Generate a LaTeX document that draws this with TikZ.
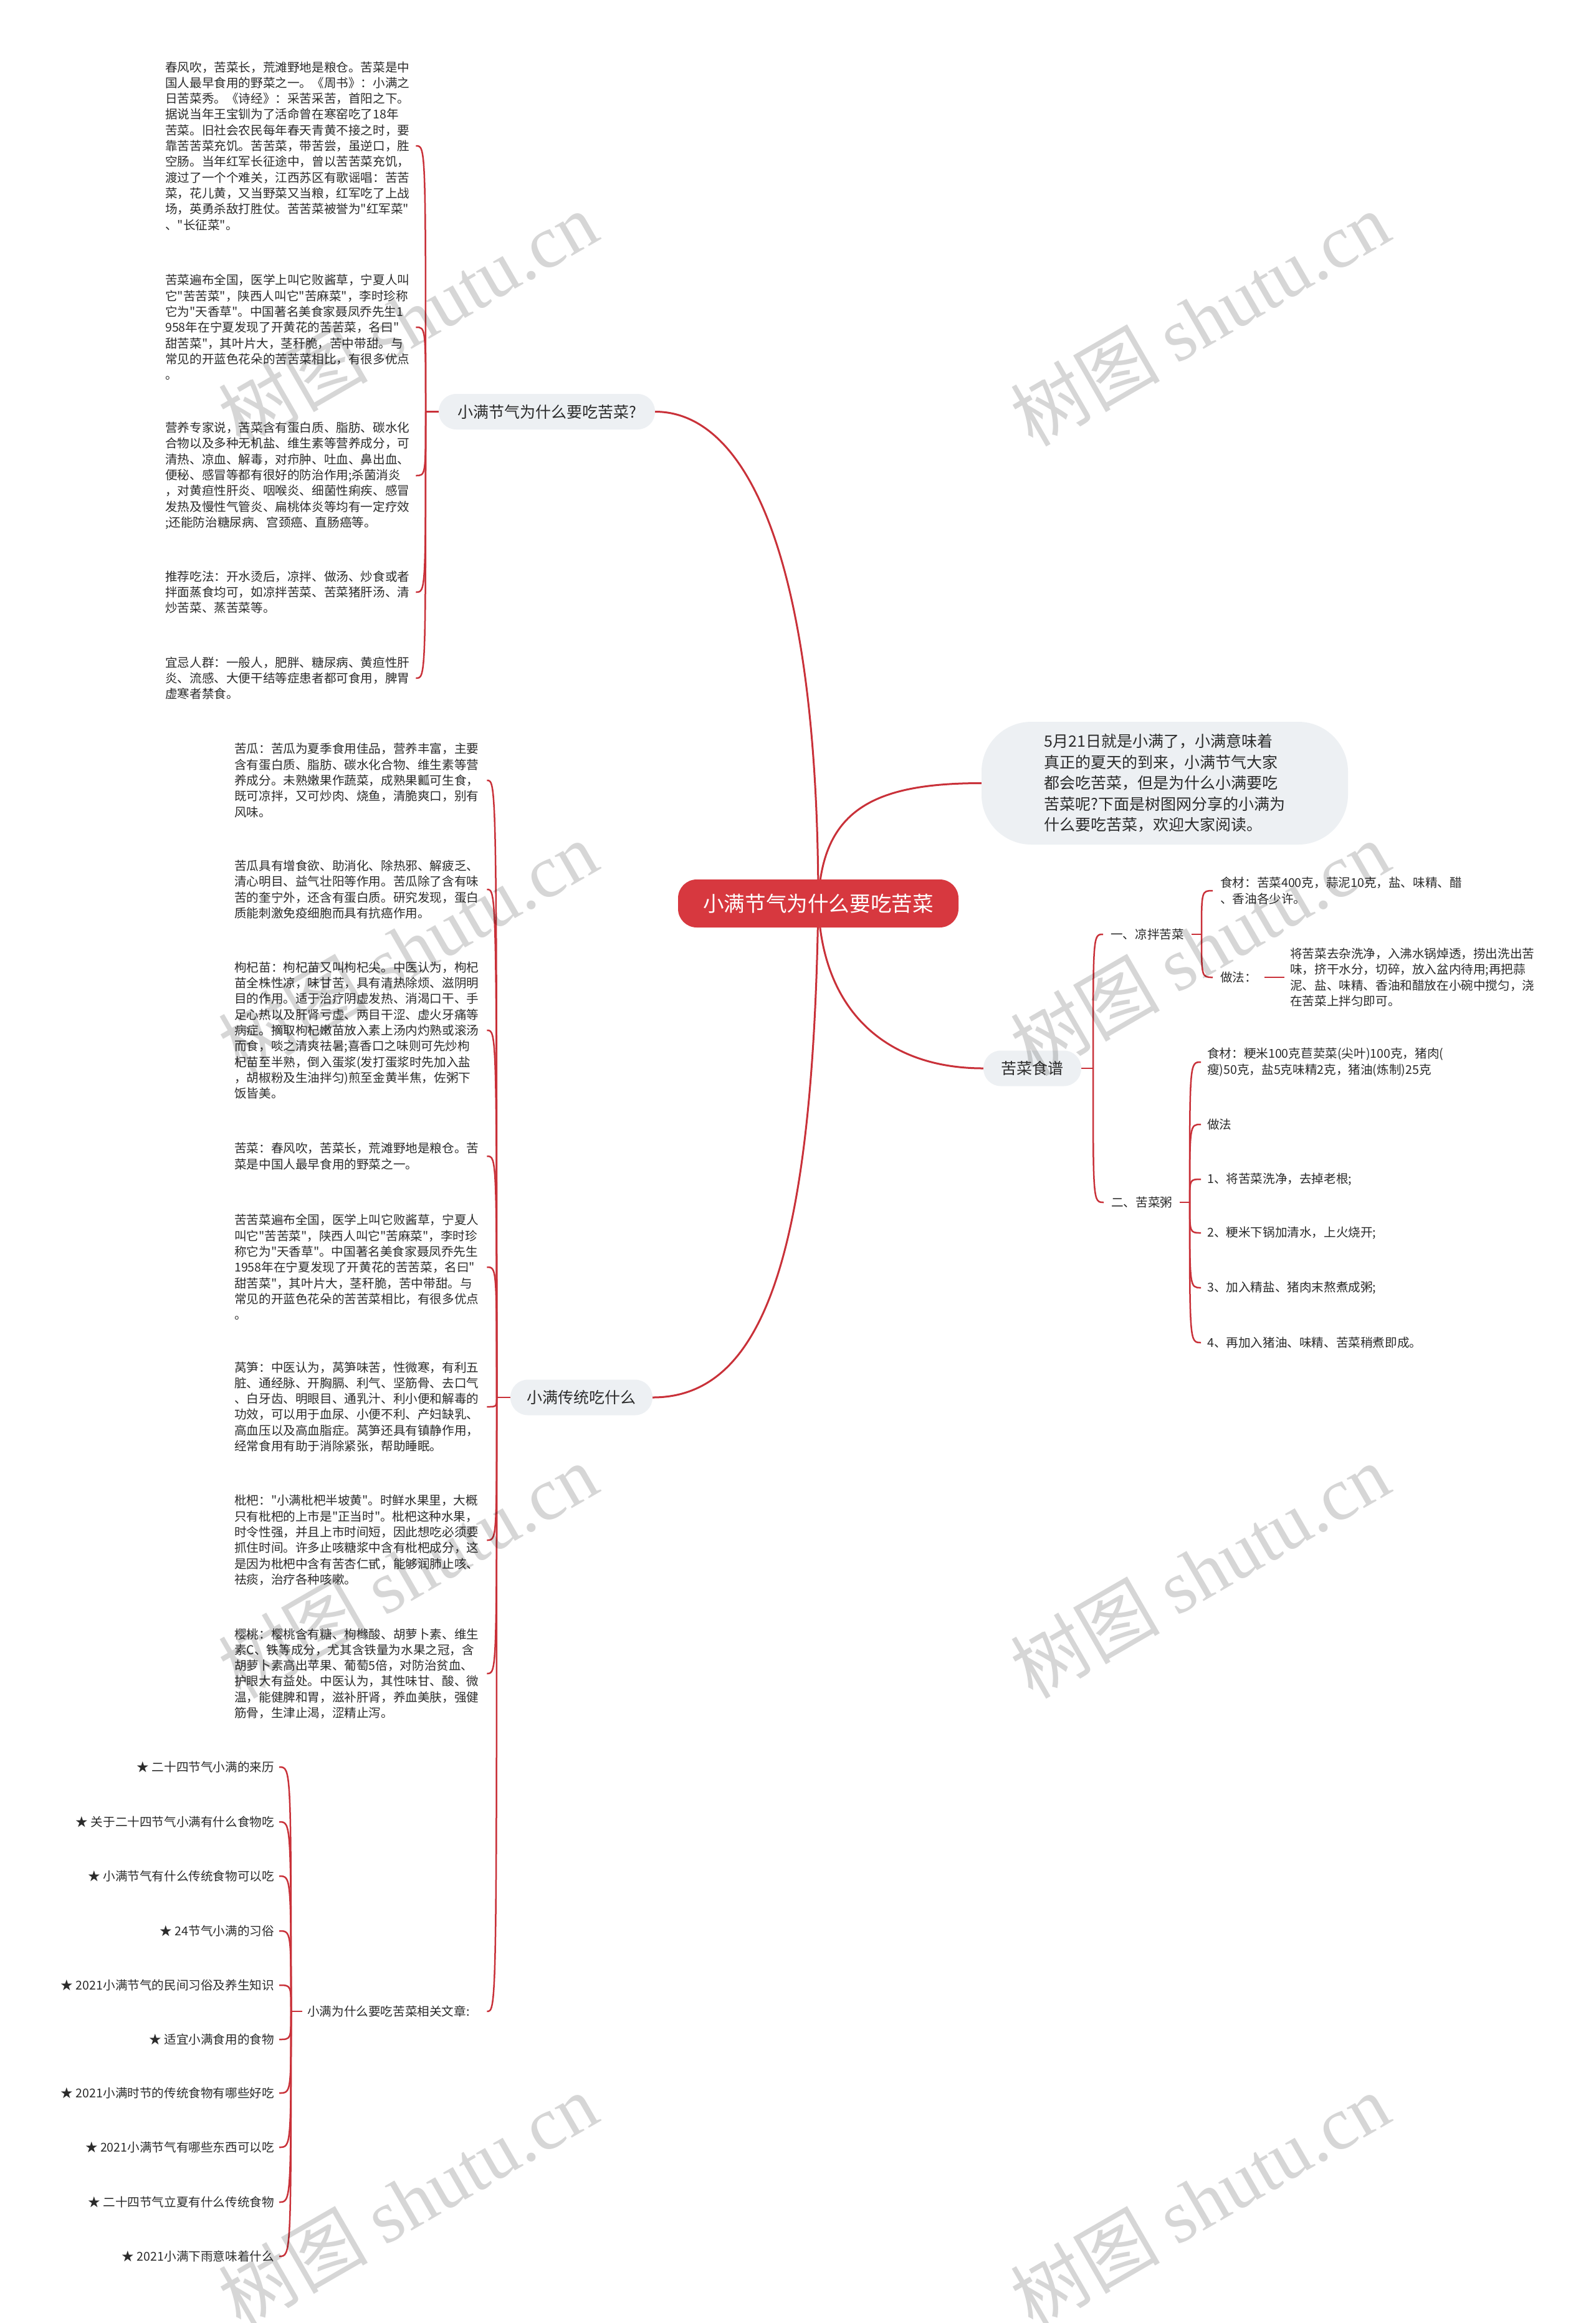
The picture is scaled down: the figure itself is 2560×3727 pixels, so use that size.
\documentclass[tikz,border=0pt]{standalone}
\usepackage{fontspec}
\setmainfont{Noto Sans CJK SC}[Ligatures=TeXOff]
\newfontfamily\wmlatin{Liberation Serif}[Ligatures=TeXOff]
\usetikzlibrary{backgrounds}
\definecolor{linered}{HTML}{C93139}
\definecolor{rootred}{HTML}{D7383F}
\definecolor{pale}{HTML}{EDF0F3}
\definecolor{ink}{HTML}{2B2B2B}
\tikzset{
  mainconn/.style={draw=linered, line width=3pt},
  conn/.style={draw=linered, line width=2.5pt},
  txt/.style={inner ysep=2pt, text=ink, align=left, font=\fontsize{19.6}{25.3}\selectfont},
  leafA/.style={txt, text width=392pt, inner xsep=10pt, anchor=west},
  leafB/.style={txt, text width=392pt, inner xsep=13pt, anchor=west},
  branchnode/.style={fill=pale, rounded corners=28pt, minimum height=57pt, text=ink, font=\fontsize{25}{30}\selectfont, inner sep=0pt},
  rootnode/.style={fill=rootred, rounded corners=30pt, minimum width=450pt, minimum height=77pt, text=white, font=\fontsize{33.6}{40}\selectfont, inner sep=0pt},
  intronode/.style={fill=pale, rounded corners=80pt, minimum width=588pt, minimum height=197pt, text=ink, align=left, font=\fontsize{25}{33.5}\selectfont, inner sep=0pt},
  wmark/.style={rotate=30, text=black, opacity=0.16, inner sep=0pt, font=\fontsize{120}{130}\selectfont},
}
\begin{document}
\begin{tikzpicture}[x=1pt, y=-1pt]
\useasboundingbox (0,0) rectangle (2560,3727);

% ---------- root and first-level nodes ----------
\node[rootnode] (root) at (1313,1449.5) {小满节气为什么要吃苦菜};
\node[branchnode, minimum width=347pt] (b1) at (877.5,660.5) {小满节气为什么要吃苦菜?};
\node[branchnode, minimum width=228pt] (b2) at (933,2242) {小满传统吃什么};
\node[branchnode, minimum width=157pt] (b3) at (1656.5,1714) {苦菜食谱};
\node[intronode] (intro) at (1869,1256.5) {5月21日就是小满了，小满意味着\\真正的夏天的到来，小满节气大家\\都会吃苦菜，但是为什么小满要吃\\苦菜呢?下面是树图网分享的小满为\\什么要吃苦菜，欢迎大家阅读。};

% ---------- branch 1 leaves ----------
\node[leafA] (a1) at (255,234) {春风吹，苦菜长，荒滩野地是粮仓。苦菜是中\\国人最早食用的野菜之一。《周书》：小满之\\日苦菜秀。《诗经》：采苦采苦，首阳之下。\\据说当年王宝钏为了活命曾在寒窑吃了18年\\苦菜。旧社会农民每年春天青黄不接之时，要\\靠苦苦菜充饥。苦苦菜，带苦尝，虽逆口，胜\\空肠。当年红军长征途中，曾以苦苦菜充饥，\\渡过了一个个难关，江西苏区有歌谣唱：苦苦\\菜，花儿黄，又当野菜又当粮，红军吃了上战\\场，英勇杀敌打胜仗。苦苦菜被誉为"红军菜"\\、"长征菜"。};
\node[leafA] (a2) at (255,525) {苦菜遍布全国，医学上叫它败酱草，宁夏人叫\\它"苦苦菜"，陕西人叫它"苦麻菜"，李时珍称\\它为"天香草"。中国著名美食家聂凤乔先生1\\958年在宁夏发现了开黄花的苦苦菜，名曰"\\甜苦菜"，其叶片大，茎秆脆，苦中带甜。与\\常见的开蓝色花朵的苦苦菜相比，有很多优点\\。};
\node[leafA] (a3) at (255,763) {营养专家说，苦菜含有蛋白质、脂肪、碳水化\\合物以及多种无机盐、维生素等营养成分，可\\清热、凉血、解毒，对疖肿、吐血、鼻出血、\\便秘、感冒等都有很好的防治作用;杀菌消炎\\，对黄疸性肝炎、咽喉炎、细菌性痢疾、感冒\\发热及慢性气管炎、扁桃体炎等均有一定疗效\\;还能防治糖尿病、宫颈癌、直肠癌等。};
\node[leafA] (a4) at (255,950) {推荐吃法：开水烫后，凉拌、做汤、炒食或者\\拌面蒸食均可，如凉拌苦菜、苦菜猪肝汤、清\\炒苦菜、蒸苦菜等。};
\node[leafA] (a5) at (255,1088) {宜忌人群：一般人，肥胖、糖尿病、黄疸性肝\\炎、流感、大便干结等症患者都可食用，脾胃\\虚寒者禁食。};

% ---------- branch 2 leaves ----------
\node[leafB] (k1) at (363,1252) {苦瓜：苦瓜为夏季食用佳品，营养丰富，主要\\含有蛋白质、脂肪、碳水化合物、维生素等营\\养成分。未熟嫩果作蔬菜，成熟果瓤可生食，\\既可凉拌，又可炒肉、烧鱼，清脆爽口，别有\\风味。};
\node[leafB] (k2) at (363,1427) {苦瓜具有增食欲、助消化、除热邪、解疲乏、\\清心明目、益气壮阳等作用。苦瓜除了含有味\\苦的奎宁外，还含有蛋白质。研究发现，蛋白\\质能刺激免疫细胞而具有抗癌作用。};
\node[leafB] (k3) at (363,1653) {枸杞苗：枸杞苗又叫枸杞尖。中医认为，枸杞\\苗全株性凉，味甘苦，具有清热除烦、滋阴明\\目的作用。适于治疗阴虚发热、消渴口干、手\\足心热以及肝肾亏虚、两目干涩、虚火牙痛等\\病症。摘取枸杞嫩苗放入素上汤内灼熟或滚汤\\而食，啖之清爽祛暑;喜香口之味则可先炒枸\\杞苗至半熟，倒入蛋浆(发打蛋浆时先加入盐\\，胡椒粉及生油拌匀)煎至金黄半焦，佐粥下\\饭皆美。};
\node[leafB] (k4) at (363,1855) {苦菜：春风吹，苦菜长，荒滩野地是粮仓。苦\\菜是中国人最早食用的野菜之一。};
\node[leafB] (k5) at (363,2033) {苦苦菜遍布全国，医学上叫它败酱草，宁夏人\\叫它"苦苦菜"，陕西人叫它"苦麻菜"，李时珍\\称它为"天香草"。中国著名美食家聂凤乔先生\\1958年在宁夏发现了开黄花的苦苦菜，名曰"\\甜苦菜"，其叶片大，茎秆脆，苦中带甜。与\\常见的开蓝色花朵的苦苦菜相比，有很多优点\\。};
\node[leafB] (k6) at (363,2257) {莴笋：中医认为，莴笋味苦，性微寒，有利五\\脏、通经脉、开胸膈、利气、坚筋骨、去口气\\、白牙齿、明眼目、通乳汁、利小便和解毒的\\功效，可以用于血尿、小便不利、产妇缺乳、\\高血压以及高血脂症。莴笋还具有镇静作用，\\经常食用有助于消除紧张，帮助睡眠。};
\node[leafB] (k7) at (363,2471) {枇杷："小满枇杷半坡黄"。时鲜水果里，大概\\只有枇杷的上市是"正当时"。枇杷这种水果，\\时令性强，并且上市时间短，因此想吃必须要\\抓住时间。许多止咳糖浆中含有枇杷成分，这\\是因为枇杷中含有苦杏仁甙，能够润肺止咳、\\祛痰，治疗各种咳嗽。};
\node[leafB] (k8) at (363,2685) {樱桃：樱桃含有糖、枸橼酸、胡萝卜素、维生\\素C、铁等成分，尤其含铁量为水果之冠，含\\胡萝卜素高出苹果、葡萄5倍，对防治贫血、\\护眼大有益处。中医认为，其性味甘、酸、微\\温，能健脾和胃，滋补肝肾，养血美肤，强健\\筋骨，生津止渴，涩精止泻。};
\node[txt, text width=280pt, inner xsep=8pt, anchor=west] (lp) at (485,3227) {小满为什么要吃苦菜相关文章:};

% ---------- related articles ----------
\node[txt, anchor=east, inner xsep=8pt] (l1) at (448,2835) {★ 二十四节气小满的来历};
\node[txt, anchor=east, inner xsep=8pt] (l2) at (448,2923) {★ 关于二十四节气小满有什么食物吃};
\node[txt, anchor=east, inner xsep=8pt] (l3) at (448,3010) {★ 小满节气有什么传统食物可以吃};
\node[txt, anchor=east, inner xsep=8pt] (l4) at (448,3098) {★ 24节气小满的习俗};
\node[txt, anchor=east, inner xsep=8pt] (l5) at (448,3185) {★ 2021小满节气的民间习俗及养生知识};
\node[txt, anchor=east, inner xsep=8pt] (l6) at (448,3272) {★ 适宜小满食用的食物};
\node[txt, anchor=east, inner xsep=8pt] (l7) at (448,3358) {★ 2021小满时节的传统食物有哪些好吃};
\node[txt, anchor=east, inner xsep=8pt] (l8) at (448,3445) {★ 2021小满节气有哪些东西可以吃};
\node[txt, anchor=east, inner xsep=8pt] (l9) at (448,3533) {★ 二十四节气立夏有什么传统食物};
\node[txt, anchor=east, inner xsep=8pt] (l10) at (448,3620) {★ 2021小满下雨意味着什么};

% ---------- recipes ----------
\node[txt, anchor=west, inner xsep=12pt] (r1) at (1770,1499) {一、凉拌苦菜};
\node[txt, anchor=west, inner xsep=12pt] (r2) at (1771,1929) {二、苦菜粥};
\node[txt, anchor=west, inner xsep=12pt] (r11) at (1946,1429) {食材：苦菜400克，蒜泥10克，盐、味精、醋\\、香油各少许。};
\node[txt, anchor=west, inner xsep=12pt] (r12) at (1946,1568) {做法：};
\node[txt, anchor=west, inner xsep=9pt] (r121) at (2061,1568) {将苦菜去杂洗净，入沸水锅焯透，捞出洗出苦\\味，挤干水分，切碎，放入盆内待用;再把蒜\\泥、盐、味精、香油和醋放在小碗中搅匀，浇\\在苦菜上拌匀即可。};
\node[txt, anchor=west, inner xsep=10pt] (r21) at (1927,1704) {食材：粳米100克苣荬菜(尖叶)100克，猪肉(\\瘦)50克，盐5克味精2克，猪油(炼制)25克};
\node[txt, anchor=west, inner xsep=10pt] (r22) at (1927,1804) {做法};
\node[txt, anchor=west, inner xsep=10pt] (r23) at (1927,1892) {1、将苦菜洗净，去掉老根;};
\node[txt, anchor=west, inner xsep=10pt] (r24) at (1927,1978) {2、粳米下锅加清水，上火烧开;};
\node[txt, anchor=west, inner xsep=10pt] (r25) at (1927,2066) {3、加入精盐、猪肉末熬煮成粥;};
\node[txt, anchor=west, inner xsep=10pt] (r26) at (1927,2154) {4、再加入猪油、味精、苦菜稍煮即成。};

% ---------- branching points ----------
\coordinate (p1) at (683,660.5);
\coordinate (p2) at (797,2242);
\coordinate (p3) at (1754,1714);
\coordinate (p4) at (1928,1499);
\coordinate (p5) at (1909,1929);
\coordinate (p6) at (467,3227);

% ---------- connectors ----------
\begin{pgfonlayer}{background}
\fill[white] (0,0) rectangle (2560,3727);
\draw[mainconn] (root.center) .. controls (1313,900) and (1200,660.5) .. (b1.east);
\draw[mainconn] (root.center) .. controls (1318,1300) and (1400,1256.5) .. (intro.west);
\draw[mainconn] (root.center) .. controls (1318,1620) and (1420,1714) .. (b3.west);
\draw[mainconn] (root.center) .. controls (1305,2000) and (1230,2242) .. (b2.east);

\draw[conn] (b1.west) -- (p1);
\foreach \n in {a1,a2,a3,a4,a5}
  \draw[conn] (p1) .. controls (p1 |- \n.east) .. (\n.east);

\draw[conn] (b2.west) -- (p2);
\foreach \n in {k1,k2,k3,k4,k5,k6,k7,k8,lp}
  \draw[conn] (p2) .. controls (p2 |- \n.east) .. (\n.east);

\draw[conn] (lp.west) -- (p6);
\foreach \n in {l1,l2,l3,l4,l5,l6,l7,l8,l9,l10}
  \draw[conn] (p6) .. controls (p6 |- \n.east) .. (\n.east);

\draw[conn] (b3.east) -- (p3);
\foreach \n in {r1,r2}
  \draw[conn] (p3) .. controls (p3 |- \n.west) .. (\n.west);

\draw[conn] (r1.east) -- (p4);
\foreach \n in {r11,r12}
  \draw[conn] (p4) .. controls (p4 |- \n.west) .. (\n.west);
\draw[conn] (r12.east) -- (r121.west);

\draw[conn] (r2.east) -- (p5);
\foreach \n in {r21,r22,r23,r24,r25,r26}
  \draw[conn] (p5) .. controls (p5 |- \n.west) .. (\n.west);
\end{pgfonlayer}

% ---------- watermarks ----------
\node[wmark] (w1) at (654,511) {树图 {\wmlatin shutu.cn}};
\node[wmark] (w2) at (1925,511) {树图 {\wmlatin shutu.cn}};
\node[wmark] (w3) at (654,1521) {树图 {\wmlatin shutu.cn}};
\node[wmark] (w4) at (1925,1521) {树图 {\wmlatin shutu.cn}};
\node[wmark] (w5) at (654,2520) {树图 {\wmlatin shutu.cn}};
\node[wmark] (w6) at (1925,2520) {树图 {\wmlatin shutu.cn}};
\node[wmark] (w7) at (654,3530) {树图 {\wmlatin shutu.cn}};
\node[wmark] (w8) at (1925,3530) {树图 {\wmlatin shutu.cn}};
\end{tikzpicture}
\end{document}
